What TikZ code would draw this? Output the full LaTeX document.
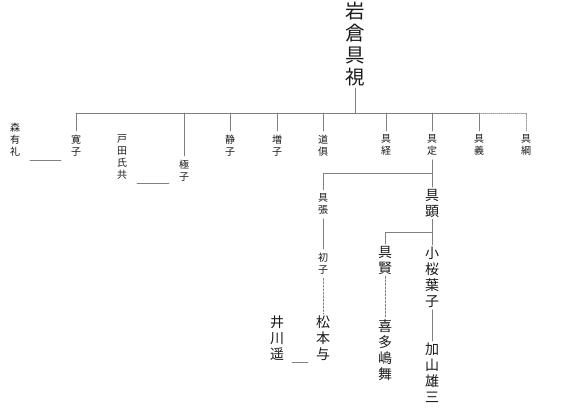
\documentclass[tikz,border=0pt]{standalone}
\usepackage{fontspec}
\newfontfamily\jp{Noto Sans CJK JP}
\usepackage{tikz}
\usetikzlibrary{calc}

\begin{document}
\begin{tikzpicture}[line cap=round,line join=round,x=1pt,y=-1pt,
  kin/.style={draw=black!50,line width=0.7pt},
  wed/.style={kin,shorten <=6pt,shorten >=6pt},
  headname/.style={anchor=north,inner sep=0pt,outer sep=2pt,align=center,text=black!90,font=\jp\fontsize{19.5}{22}\selectfont},
  midname/.style={anchor=north,inner sep=0pt,outer sep=2pt,align=center,text=black!90,font=\jp\fontsize{14}{16}\selectfont},
  kidname/.style={anchor=north,inner sep=0pt,outer sep=4pt,align=center,text=black!90,font=\jp\fontsize{10}{12}\selectfont}]
\useasboundingbox (0,0) rectangle (585,413);
\node[headname] (iwakura) at (355,0) {岩\\倉\\具\\視};
\node[kidname] (mori) at (15,119) {森\\有\\礼};
\node[kidname] (hiroko) at (76,131) {寛\\子};
\node[kidname] (toda) at (122,131) {戸\\田\\氏\\共};
\node[kidname] (kiwako) at (184,156) {極\\子};
\node[kidname] (shizuko) at (230,131) {静\\子};
\node[kidname] (masuko) at (277,131) {増\\子};
\node[kidname] (michitomo) at (323,131) {道\\俱};
\node[kidname] (tomotsune) at (386,131) {具\\経};
\node[kidname] (tomosada) at (432,131) {具\\定};
\node[kidname] (tomoyoshi) at (479,131) {具\\義};
\node[kidname] (tomotsuna) at (526,131) {具\\綱};
\node[kidname] (tomohari) at (323,190) {具\\張};
\node[kidname] (hatsuko) at (323,249) {初\\子};
\node[midname] (tomoaki) at (432,187) {具\\顕};
\node[midname] (tomokata) at (385,244) {具\\賢};
\node[midname] (kozakura) at (432,245) {小\\桜\\葉\\子};
\node[midname] (matsumoto) at (323,314) {松\\本\\与};
\node[midname] (ikawa) at (277,314) {井\\川\\遥};
\node[midname] (kitajima) at (385,318) {喜\\多\\嶋\\舞};
\node[midname] (kayama) at (432,341) {加\\山\\雄\\三};
\coordinate (bar) at (355,113);
\coordinate (bartwo) at (432,173);
\coordinate (barthree) at (432,232);
\draw[kin] (iwakura.south) -- (bar);
\draw[kin] (hiroko.north |- bar) -- (tomoyoshi.north |- bar);
\foreach \n in {hiroko,kiwako,shizuko,masuko,michitomo,tomotsune,tomosada,tomoyoshi}
  \draw[kin] (\n.north) -- (\n.north |- bar);
\draw[kin,draw=black!40,dash pattern=on 1pt off 1pt] (tomoyoshi.north |- bar) -- (tomotsuna.north |- bar) -- (tomotsuna.north);
\draw[kin] (tomosada.south) -- (tomoaki.north);
\draw[kin] (tomohari.north) -- (tomohari.north |- bartwo) -- (bartwo);
\draw[kin] (tomohari.south) -- (hatsuko.north);
\draw[kin,dash pattern=on 2pt off 1.5pt] (hatsuko.south) -- (matsumoto.north);
\draw[kin] (tomoaki.south) -- (kozakura.north);
\draw[kin] (tomokata.north) -- (tomokata.north |- barthree) -- (barthree);
\draw[kin,dash pattern=on 2pt off 1.5pt] (tomokata.south) -- (kitajima.north);
\draw[kin] (kozakura.south) -- (kayama.north);
\draw[wed] (mori.east |- hiroko.south) -- (hiroko.west |- hiroko.south);
\draw[wed] (toda.east |- toda.south) -- (kiwako.west |- toda.south);
\draw[wed] (ikawa.east |- ikawa.south) -- (matsumoto.west |- ikawa.south);
\end{tikzpicture}
\end{document}
